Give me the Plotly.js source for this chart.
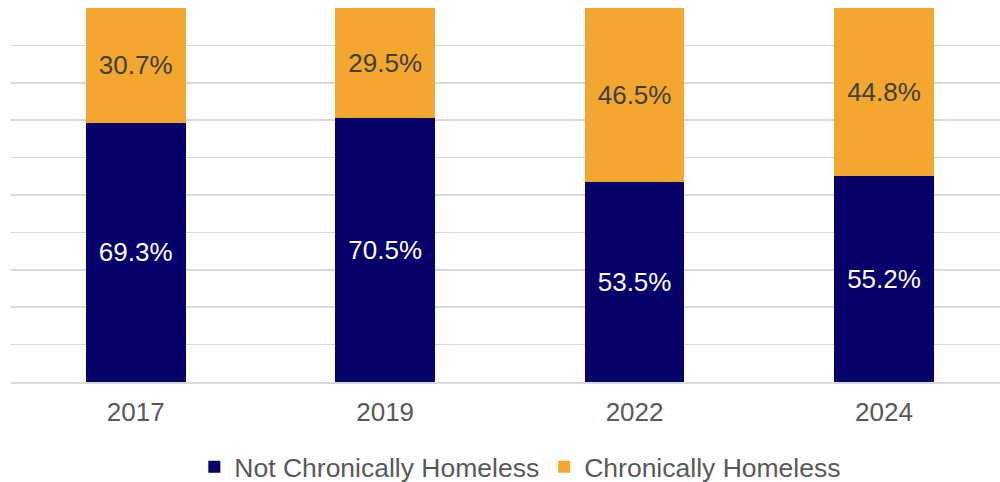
<!DOCTYPE html>
<html>
<head>
<meta charset="utf-8">
<script src="https://cdn.plot.ly/plotly-3.0.1.min.js"></script>
<style>html,body{margin:0;padding:0;background:#fff;}#chart{width:1000px;height:482px;}</style>
</head>
<body>
<div id="chart"></div>
<script>
const years = ['2017', '2019', '2022', '2024'];
const notChronic = [69.3, 70.5, 53.5, 55.2];
const chronic = [30.7, 29.5, 46.5, 44.8];
const seriesNames = ['Not Chronically Homeless', 'Chronically Homeless'];

const fontFam = '"Liberation Sans", Arial, sans-serif';
const fmt = v => v.toFixed(1) + '%';

const traces = [
  {
    type: 'bar', x: years, y: notChronic, name: seriesNames[0],
    marker: {color: '#05006a'},
    text: notChronic.map(fmt), textposition: 'inside', insidetextanchor: 'middle',
    textangle: 0, insidetextfont: {color: '#ffffff', size: 26, family: fontFam},
    width: 0.4, hoverinfo: 'skip'
  },
  {
    type: 'bar', x: years, y: chronic, name: seriesNames[1],
    marker: {color: '#f3a72f'},
    text: chronic.map(fmt), textposition: 'inside', insidetextanchor: 'middle',
    textangle: 0, insidetextfont: {color: '#404040', size: 26, family: fontFam},
    width: 0.4, hoverinfo: 'skip'
  }
];

const layout = {
  width: 1000, height: 482,
  margin: {l: 11, r: 0, t: 8, b: 100, autoexpand: false},
  barmode: 'stack',
  paper_bgcolor: '#ffffff', plot_bgcolor: '#ffffff',
  font: {family: fontFam, color: '#595959', size: 25},
  xaxis: {
    type: 'category', range: [-0.5, 3.465],
    showgrid: false, zeroline: false,
    showline: true, linecolor: '#d9d9d9', linewidth: 1.5,
    ticks: 'outside', ticklen: 6, tickcolor: 'rgba(0,0,0,0)',
    tickfont: {size: 26, color: '#595959', family: fontFam},
    automargin: false, fixedrange: true
  },
  yaxis: {
    range: [0, 100], dtick: 10, showticklabels: false,
    showgrid: true, gridcolor: '#d9d9d9', gridwidth: 1.5,
    zeroline: false, fixedrange: true, automargin: false
  },
  showlegend: true,
  legend: {
    orientation: 'h', x: 0.515, xanchor: 'center',
    yref: 'container', y: 0.031, yanchor: 'middle',
    font: {size: 26.5, color: '#595959', family: fontFam},
    traceorder: 'normal', itemwidth: 30
  },
  hovermode: false
};

Plotly.newPlot('chart', traces, layout, {displayModeBar: false, staticPlot: true});
</script>
</body>
</html>
